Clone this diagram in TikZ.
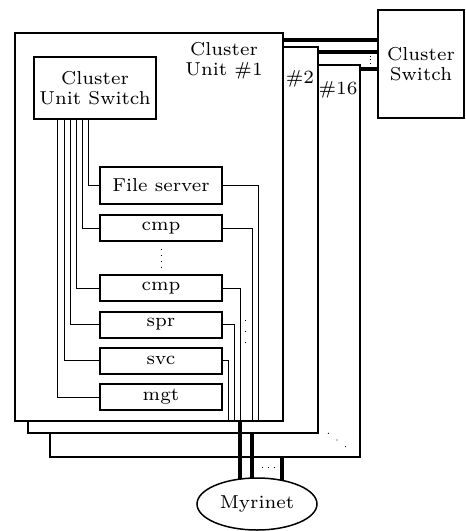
\documentclass[tikz,border=0pt]{standalone}
\usepackage{fontspec}
\setmainfont{lmroman7-regular.otf}
\usetikzlibrary{calc,shapes.geometric}
\pgfdeclarelayer{bg}
\pgfdeclarelayer{mid}
\pgfsetlayers{bg,mid,main}
\begin{document}
\begin{tikzpicture}[x=1pt,y=-1pt,
  txt/.style={font=\fontsize{18.7}{20}\selectfont},
  lbl/.style={txt, inner sep=0pt},
  frame/.style={draw, fill=white, line width=2pt, inner sep=0pt},
  box/.style={draw, fill=white, line width=2pt, inner sep=0pt, minimum width=122, minimum height=26, txt},
  wire/.style={line width=1pt},
  fat/.style={line width=4pt},
  dotsty/.style={line width=0.9pt, dash pattern=on 0.9pt off #1},
  dotsty/.default=5pt]
\useasboundingbox (0,0) rectangle (466,531);
% frames
\begin{pgfonlayer}{bg}
\node[frame, line width=1.5pt, minimum width=310, minimum height=392] (f16) at (205,261) {};
\node[frame, line width=1.5pt, minimum width=290, minimum height=386] (f2) at (173,240) {};
\node[frame, minimum width=268, minimum height=388] (f1) at (149,227) {};
\end{pgfonlayer}
% cluster switch
\node[box, minimum width=86, minimum height=108, align=center] (cs) at (421,64) {Cluster\\Switch};
% cluster unit switch and hosts
\node[box, minimum height=62, align=center] (cus) at (95,88) {Cluster\\Unit Switch};
\node[box, minimum height=37] (fs) at (161,185.5) {File server};
\node[box] (cmpa) at (161,228) {cmp};
\node[box] (cmpb) at (161,288) {cmp};
\node[box] (spr) at (161,324.5) {spr};
\node[box] (svc) at (161,360.5) {svc};
\node[box] (mgt) at (161,397) {mgt};
% labels
\node[lbl, align=center] (l1) at (224,61) {Cluster\\Unit \#1};
\node[lbl] (l2) at (300,79) {\#2};
\node[lbl] (l16) at (338,90) {\#16};
% Myrinet
\node[draw, ellipse, fill=white, line width=1.5pt, minimum width=120, minimum height=52, inner sep=0pt, txt] (myr) at (257,504) {Myrinet};
% left wires
\draw[wire] ($(cus.south west)+(24,0)$) |- (mgt.west);
\draw[wire] ($(cus.south west)+(31,0)$) |- (svc.west);
\draw[wire] ($(cus.south west)+(37,0)$) |- (spr.west);
\draw[wire] ($(cus.south west)+(43,0)$) |- (cmpb.west);
\draw[wire] ($(cus.south west)+(49,0)$) |- (cmpa.west);
\draw[wire] ($(cus.south west)+(55,0)$) |- (fs.west);
% right wires
\draw[wire] (fs.east) -| ($(f1.south)+(109,0)$);
\draw[wire] (cmpa.east) -| ($(f1.south)+(103,0)$);
\draw[wire] (cmpb.east) -| ($(f1.south)+(91,0)$);
\draw[wire] (spr.east) -| ($(f1.south)+(85,0)$);
\draw[wire] (svc.east) -| ($(f1.south)+(79,0)$);
% thick links
\coordinate (t1) at ($(f1.south)+(91,0)$);
\coordinate (t2) at ($(f2.south)+(79,0)$);
\coordinate (t16) at ($(f16.south)+(77,0)$);
\coordinate (r1) at ($(f1.north east)+(0,8)$);
\coordinate (r2) at ($(f2.north east)+(0,6)$);
\coordinate (r16) at ($(f16.north east)+(0,4.5)$);
\begin{pgfonlayer}{mid}
\draw[fat] (t1) -- (t1 |- myr.center);
\draw[fat] (t2) -- (t2 |- myr.center);
\draw[fat] (t16) -- (t16 |- myr.center);
\draw[fat] (r1) -- (r1 -| cs.center);
\draw[fat] (r2) -- (r2 -| cs.center);
\draw[fat] (r16) -- (r16 -| cs.center);
\end{pgfonlayer}
% ellipsis dots
\draw[dotsty=5pt] ([yshift=-7]cmpa.south) -- ([yshift=7]cmpb.north);
\draw[dotsty=10pt] (245,320) -- (245,343);
\draw[dotsty=2.5pt] (370,56) -- (370,64);
\draw[dotsty=5pt] (262,467) -- (275,467);
\draw[dotsty=10pt] (328,433) -- (346,447);
\end{tikzpicture}
\end{document}
